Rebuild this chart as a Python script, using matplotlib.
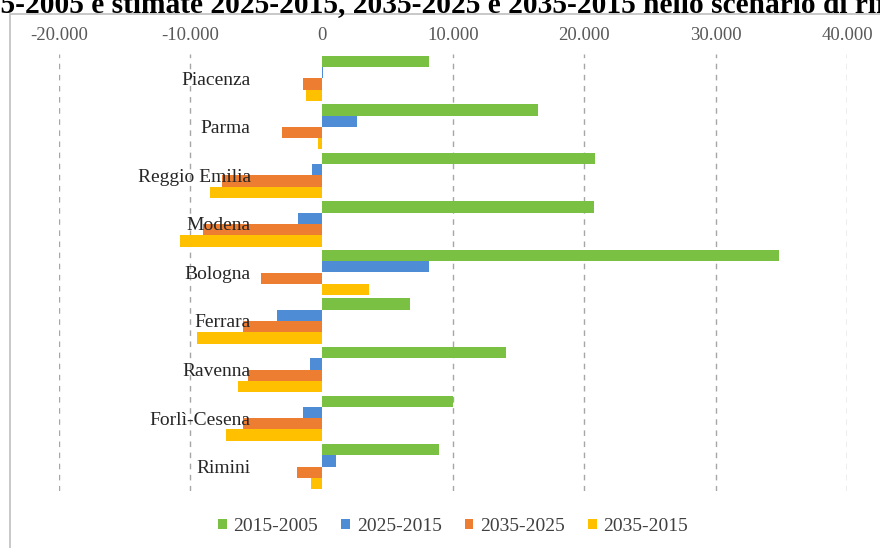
import matplotlib.pyplot as plt
import matplotlib.patches as patches
from matplotlib.ticker import FuncFormatter
import numpy as np

plt.rcParams['font.family'] = ['Liberation Serif', 'DejaVu Serif']

provinces = ['Piacenza', 'Parma', 'Reggio Emilia', 'Modena', 'Bologna',
             'Ferrara', 'Ravenna', 'Forlì-Cesena', 'Rimini']
series_names = ['2015-2005', '2025-2015', '2035-2025', '2035-2015']
var_2015_2005 = [8200, 16500, 20800, 20700, 34800, 6700, 14000, 10000, 8900]
var_2025_2015 = [100, 2700, -700, -1800, 8200, -3400, -900, -1400, 1100]
var_2035_2025 = [-1400, -3000, -7600, -9000, -4600, -6000, -5600, -6000, -1900]
var_2035_2015 = [-1200, -300, -8500, -10800, 3600, -9500, -6400, -7300, -800]
colors = ['#7AC143', '#4F8CD6', '#ED7D31', '#FFC000']

all_series = [var_2015_2005, var_2025_2015, var_2035_2025, var_2035_2015]

title_head = 'Variazioni osservate 201'
title_tail = '5-2005 e stimate 2025-2015, 2035-2025 e 2035-2015 nello scenario di riferimento'

fig = plt.figure(figsize=(8.8, 5.48), dpi=100)
ax = fig.add_axes([59 / 880, 1 - 491 / 548, (847 - 59) / 880, (491 - 54) / 548])

# chart frame
frame = patches.Rectangle((10 / 880, -0.01), 1.0, (548 - 14) / 548 + 0.01,
                          transform=fig.transFigure, fill=False,
                          edgecolor='#bfbfbf', linewidth=1.2, clip_on=False)
fig.add_artist(frame)

y = np.arange(len(provinces))
h = 0.233
offsets = (np.arange(4) - 1.5) * h
for vals, off, col, name in zip(all_series, offsets, colors, series_names):
    ax.barh(y + off, vals, height=h, color=col, label=name, zorder=2)

ax.set_xlim(-20000, 40000)
ax.set_ylim(len(provinces) - 0.5, -0.5)
ax.set_xticks(np.arange(-20000, 40001, 10000))
ax.xaxis.set_major_formatter(FuncFormatter(lambda v, p: f'{int(v):,}'.replace(',', '.')))
ax.xaxis.tick_top()
ax.tick_params(axis='x', length=0, pad=7, labelsize=13.5, labelcolor='#595959')
ax.set_yticks([])
for v in np.arange(-20000, 40001, 10000):
    if v != 0:
        ax.axvline(v, color='#a6a6a6', linestyle=(0, (4, 4)), linewidth=1, zorder=1)
for s in ax.spines.values():
    s.set_visible(False)

# category labels sit next to the zero axis
for yi, name in zip(y, provinces):
    ax.text(-5400, yi + 0.04, name, ha='right', va='center', fontsize=14,
            color='#262626', zorder=3)

leg = ax.legend(loc='upper center', bbox_to_anchor=(0.5, -0.022), ncol=4,
                frameon=False, fontsize=14, handlelength=0.45, handleheight=0.45,
                handletextpad=0.35, columnspacing=1.18)
for t in leg.get_texts():
    t.set_color('#404040')

# title runs wider than the figure; shift it so the tail starts at the left edge
title_kw = dict(fontsize=21.2, fontweight='bold', color='black')
renderer = fig.canvas.get_renderer()
probe = fig.text(0, 0, title_head, **title_kw)
head_w = probe.get_window_extent(renderer).width / fig.bbox.width
probe.remove()
fig.text(-head_w, 1 - 12 / 548, title_head + title_tail,
         ha='left', va='baseline', **title_kw)

fig.savefig('out.png', dpi=100)
